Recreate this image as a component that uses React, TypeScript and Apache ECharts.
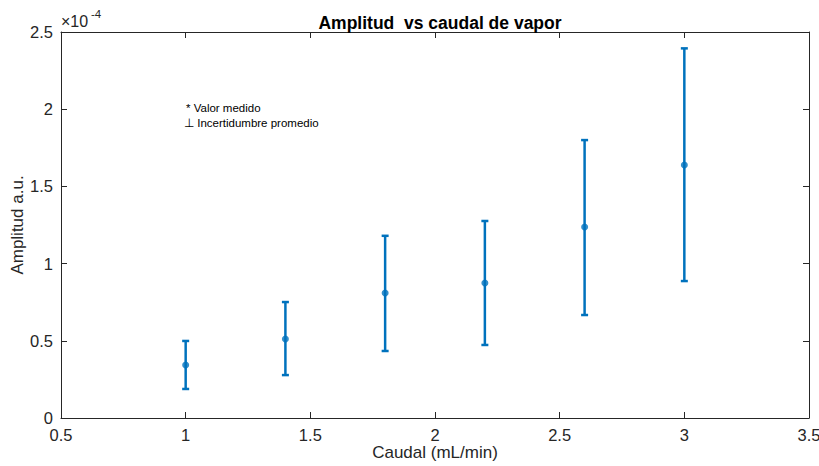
import React, { useEffect, useRef } from "react";
import * as echarts from "echarts";

const caudal = [1, 1.4, 1.8, 2.2, 2.6, 3];
const amplitud = [0.343, 0.512, 0.81, 0.874, 1.237, 1.639]; // ×1e-4
const lower = [0.188, 0.278, 0.434, 0.473, 0.667, 0.887];
const upper = [0.499, 0.751, 1.18, 1.276, 1.8, 2.394];
const xTicks = [0.5, 1, 1.5, 2, 2.5, 3, 3.5];
const yTicks = [0, 0.5, 1, 1.5, 2, 2.5];

const BLUE = "#0072BD";
const AX = "#262626";
const FONT = "Arial, 'Liberation Sans', Helvetica, sans-serif";

export default function App() {
  const ref = useRef<HTMLDivElement>(null);
  useEffect(() => {
    if (!ref.current) return;
    const chart = echarts.init(ref.current, undefined, { renderer: "svg" });
    const axisCommon = {
      axisLine: { show: true, onZero: false, lineStyle: { color: AX, width: 1 } },
      axisTick: { show: true, inside: true, length: 6, lineStyle: { color: AX, width: 1 } },
      splitLine: { show: false },
    };
    chart.setOption({
      animation: false,
      backgroundColor: "#ffffff",
      title: {
        text: "Amplitud  vs caudal de vapor",
        left: 435,
        textAlign: "center",
        top: 9,
        textStyle: { fontFamily: FONT, fontSize: 17.5, fontWeight: "bold", color: "#000" },
      },
      grid: { left: 61, right: 10, top: 32, bottom: 48, containLabel: false, outerBoundsMode: "none" },
      xAxis: [
        {
          type: "value",
          min: 0.5,
          max: 3.5,
          interval: 0.5,
          position: "bottom",
          ...axisCommon,
          axisLabel: {
            fontFamily: FONT,
            fontSize: 16.5,
            color: AX,
            margin: 8,
            hideOverlap: false,
            formatter: (v: number) => (xTicks.includes(v) ? String(v) : ""),
          },
          name: "Caudal (mL/min)",
          nameLocation: "middle",
          nameGap: 26,
          nameMoveOverlap: false,
          nameTextStyle: { fontFamily: FONT, fontSize: 17, color: AX },
        },
        {
          type: "value",
          min: 0.5,
          max: 3.5,
          interval: 0.5,
          position: "top",
          ...axisCommon,
          axisLabel: { show: false },
        },
      ],
      yAxis: [
        {
          type: "value",
          min: 0,
          max: 2.5,
          interval: 0.5,
          position: "left",
          ...axisCommon,
          axisLabel: {
            fontFamily: FONT,
            fontSize: 16.5,
            color: AX,
            margin: 8,
            formatter: (v: number) => (yTicks.includes(v) ? String(v) : ""),
          },
          name: "Amplitud a.u.",
          nameLocation: "middle",
          nameGap: 35,
          nameMoveOverlap: false,
          nameRotate: 90,
          nameTextStyle: { fontFamily: FONT, fontSize: 17, color: AX },
        },
        {
          type: "value",
          min: 0,
          max: 2.5,
          interval: 0.5,
          position: "right",
          ...axisCommon,
          axisLabel: { show: false },
        },
      ],
      graphic: [
        {
          type: "text",
          left: 61,
          top: 13,
          style: { text: "×10", fontFamily: FONT, fontSize: 16, fill: AX },
        },
        {
          type: "text",
          left: 91,
          top: 8,
          style: { text: "-4", fontFamily: FONT, fontSize: 11.5, fill: AX },
        },
        {
          type: "text",
          left: 186,
          top: 102,
          style: { text: "* Valor medido", fontFamily: FONT, fontSize: 11.5, fill: "#000" },
        },
        {
          type: "text",
          left: 184,
          top: 117,
          style: { text: "⊥ Incertidumbre promedio", fontFamily: FONT, fontSize: 11.5, fill: "#000" },
        },
      ],
      series: [
        {
          type: "custom",
          xAxisIndex: 0,
          yAxisIndex: 0,
          data: caudal.map((c, i) => [c, lower[i], upper[i]]),
          renderItem: (params: any, api: any) => {
            const x = api.value(0);
            const lo = api.coord([x, api.value(1)]);
            const hi = api.coord([x, api.value(2)]);
            const hw = 3.5;
            const style = { stroke: BLUE, lineWidth: 2.5, fill: "none" };
            return {
              type: "group",
              children: [
                { type: "line", shape: { x1: lo[0], y1: lo[1], x2: hi[0], y2: hi[1] }, style },
                { type: "line", shape: { x1: lo[0] - hw, y1: lo[1], x2: lo[0] + hw, y2: lo[1] }, style },
                { type: "line", shape: { x1: hi[0] - hw, y1: hi[1], x2: hi[0] + hw, y2: hi[1] }, style },
              ],
            };
          },
          z: 2,
        },
        {
          type: "scatter",
          xAxisIndex: 0,
          yAxisIndex: 0,
          data: caudal.map((c, i) => [c, amplitud[i]]),
          symbol: "circle",
          symbolSize: 7,
          itemStyle: { color: BLUE },
          z: 3,
        },
      ],
    });
    return () => chart.dispose();
  }, []);
  return <div ref={ref} style={{ width: 819, height: 466, position: "absolute", left: 0, top: 0 }} />;
}
